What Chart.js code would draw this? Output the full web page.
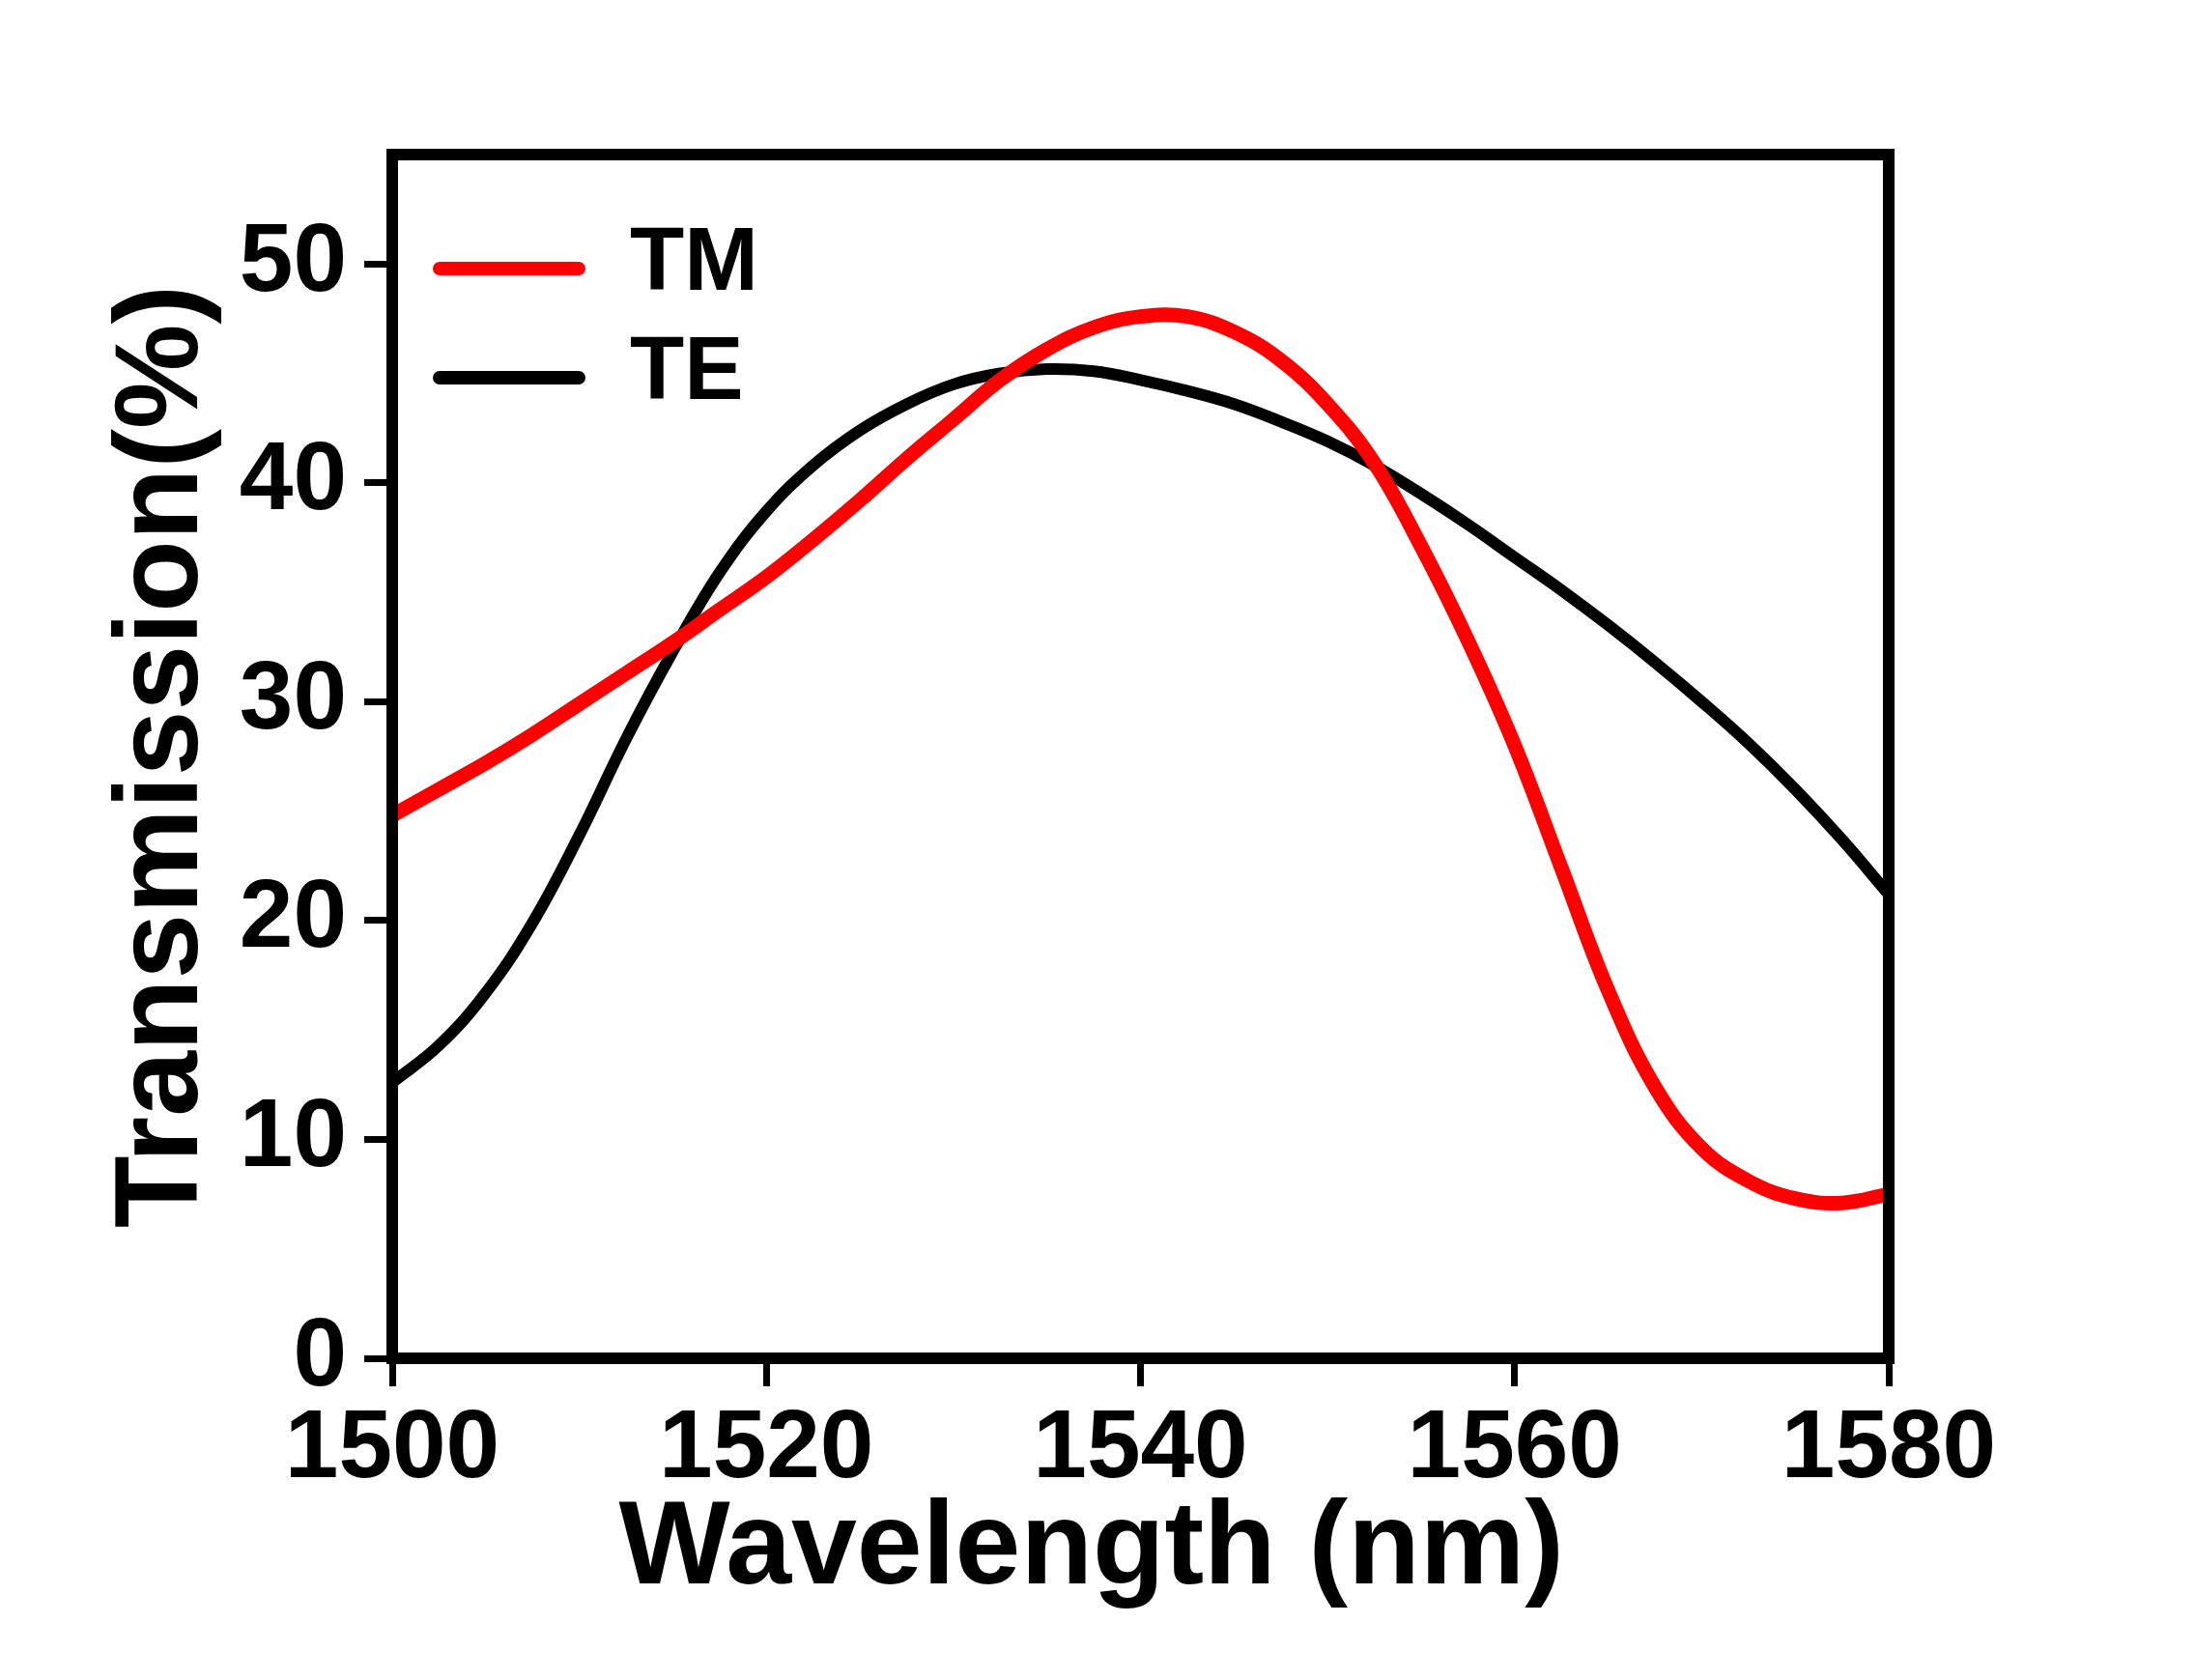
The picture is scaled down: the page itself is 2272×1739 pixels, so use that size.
<!DOCTYPE html>
<html>
<head>
<meta charset="utf-8">
<script src="https://cdn.jsdelivr.net/npm/chart.js@4.4.1/dist/chart.umd.min.js"></script>
<style>
  html, body { margin: 0; padding: 0; background: #fff; }
  #wrap { width: 2272px; height: 1739px; }
</style>
</head>
<body>
<div id="wrap"><canvas id="transChart" width="2272" height="1739"></canvas></div>
<script>
const ctx = document.getElementById('transChart');

// Data (wavelength in nm, transmission in %)
var wavelength = [1500, 1502.5, 1505, 1507.5, 1510, 1512.5, 1515, 1517.5, 1520, 1522.5, 1525, 1527.5, 1530, 1532.5, 1535, 1537.5, 1540, 1542.5, 1545, 1547.5, 1550, 1552.5, 1555, 1557.5, 1560, 1562.5, 1565, 1567.5, 1570, 1572.5, 1575, 1577.5, 1580];
var tmValues = [24.8, 26.0, 27.2, 28.5, 29.9, 31.3, 32.7, 34.2, 35.7, 37.4, 39.2, 41.1, 42.9, 44.7, 46.1, 47.1, 47.6, 47.6, 46.9, 45.6, 43.6, 40.9, 37.1, 32.8, 28.0, 22.4, 16.8, 12.4, 9.6, 8.1, 7.3, 7.1, 7.5];
var teValues = [12.6, 14.3, 16.7, 19.9, 23.9, 28.3, 32.3, 35.9, 38.7, 40.8, 42.4, 43.6, 44.5, 45.0, 45.2, 45.1, 44.7, 44.2, 43.6, 42.8, 41.9, 40.8, 39.5, 38.1, 36.6, 35.1, 33.5, 31.8, 30.0, 28.1, 26.0, 23.7, 21.2];

var xTicks = [1500, 1520, 1540, 1560, 1580];
var yTicks = [0, 10, 20, 30, 40, 50];

function toPoints(xs, ys) {
    return xs.map(function (x, i) { return {x: x, y: ys[i]}; });
}

var FONT = "'Liberation Sans', Arial, sans-serif";

// frame on all four sides plus the in-plot legend
const framePlugin = {
    id: 'frame',
    afterDatasetsDraw(chart) {
        const c = chart.ctx;
        const a = chart.chartArea;
        c.save();
        c.strokeStyle = '#000';
        c.lineWidth = 12;
        c.lineJoin = 'miter';
        c.strokeRect(a.left, a.top, a.right - a.left, a.bottom - a.top);

        // legend
        chart.data.datasets.forEach(function (ds, i) {
            var ly = 278 + i * 113;
            c.strokeStyle = ds.borderColor;
            c.lineWidth = 14;
            c.lineCap = 'round';
            c.beginPath();
            c.moveTo(455, ly);
            c.lineTo(599, ly);
            c.stroke();
            c.fillStyle = '#000';
            c.font = 'bold 92px ' + FONT;
            c.textBaseline = 'alphabetic';
            c.textAlign = 'left';
            c.fillText(ds.label, 652, ly + 22);
        });
        c.restore();
    }
};

new Chart(ctx, {
    type: 'line',
    data: {
        datasets: [
            {
                label: 'TM',
                data: toPoints(wavelength, tmValues),
                borderColor: '#ff0000',
                borderWidth: 15,
                pointRadius: 0,
                tension: 0.4
            },
            {
                label: 'TE',
                data: toPoints(wavelength, teValues),
                borderColor: '#000000',
                borderWidth: 12,
                pointRadius: 0,
                tension: 0.4
            }
        ]
    },
    options: {
        responsive: false,
        animation: false,
        devicePixelRatio: 1,
        layout: { padding: { left: 0, right: 317, top: 160, bottom: 0 } },
        plugins: { legend: { display: false }, tooltip: { enabled: false } },
        scales: {
            x: {
                type: 'linear',
                min: 1500,
                max: 1580,
                afterFit(scale) { scale.height = 333; },
                afterBuildTicks(scale) { scale.ticks = xTicks.map(function (v) { return {value: v}; }); },
                border: { display: false },
                grid: { drawOnChartArea: false, drawTicks: true, tickLength: 29, tickWidth: 7, tickColor: '#000' },
                ticks: {
                    color: '#000',
                    padding: 6,
                    maxRotation: 0,
                    callback: function (v) { return String(v); },
                    font: { family: FONT, size: 100, weight: 'bold' }
                },
                title: {
                    display: true,
                    text: 'Wavelength (nm)   ',
                    color: '#000',
                    padding: { top: 0, bottom: 60 },
                    font: { family: FONT, size: 122, weight: 'bold' }
                }
            },
            y: {
                min: 0,
                max: 55,
                afterFit(scale) { scale.width = 406; },
                afterBuildTicks(scale) { scale.ticks = yTicks.map(function (v) { return {value: v}; }); },
                border: { display: false },
                grid: { drawOnChartArea: false, drawTicks: true, tickLength: 29, tickWidth: 7, tickColor: '#000' },
                ticks: {
                    color: '#000',
                    padding: 18,
                    callback: function (v) { return String(v); },
                    font: { family: FONT, size: 100, weight: 'bold' }
                },
                title: {
                    display: true,
                    text: 'Transmission(%)',
                    color: '#000',
                    padding: { top: 97, bottom: 0 },
                    font: { family: FONT, size: 122, weight: 'bold' }
                }
            }
        }
    },
    plugins: [framePlugin]
});
</script>
</body>
</html>
